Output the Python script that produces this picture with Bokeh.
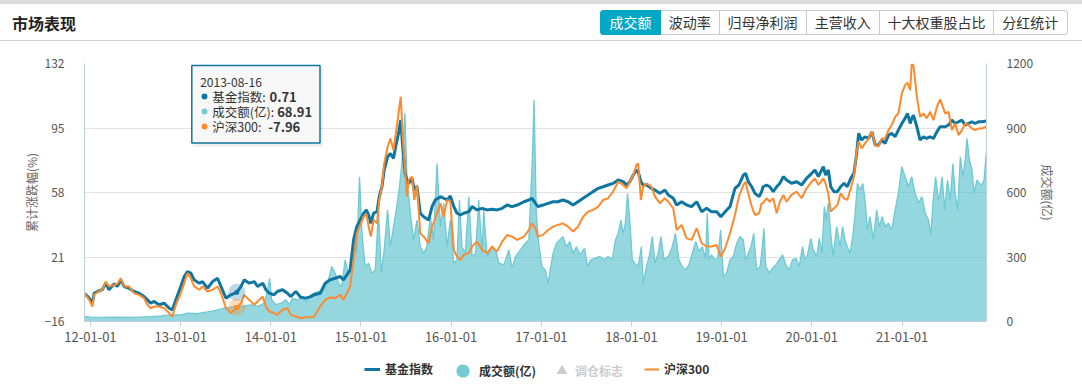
import pandas as pd
from bokeh.plotting import figure
from bokeh.layouts import column
from bokeh.models import (Range1d, LinearAxis, FixedTicker, DatetimeTickFormatter,
                          Legend, LegendItem, Div)
from bokeh.core.properties import value
from bokeh.embed import file_html
from bokeh.resources import INLINE

# ------------------------------------------------------------------ data
title_text = "市场表现"
tab_labels = ["成交额", "波动率", "归母净利润", "主营收入", "十大权重股占比", "分红统计"]
active_tab = "成交额"
fund_name = "基金指数"
vol_name = "成交额(亿)"
flag_name = "调仓标志"
hs_name = "沪深300"
left_axis_title = "累计涨跌幅(%)"
right_axis_title = "成交额(亿)"
left_ticks = [-16, 21, 58, 95, 132]
right_ticks = [0, 300, 600, 900, 1200]
year_ticks = ["2012-01-01", "2013-01-01", "2014-01-01", "2015-01-01", "2016-01-01",
              "2017-01-01", "2018-01-01", "2019-01-01", "2020-01-01", "2021-01-01"]
x_start, x_end = "2011-12-08", "2021-12-09"
tooltip_date = "2013-08-16"

line_dates = [
    "2011-12-09", "2011-12-27", "2012-01-09", "2012-01-16", "2012-01-29", "2012-02-18", "2012-03-03", "2012-03-16",
    "2012-04-06", "2012-04-19", "2012-05-03", "2012-05-16", "2012-06-05", "2012-06-26", "2012-07-16", "2012-08-05",
    "2012-08-19", "2012-09-01", "2012-09-15", "2012-10-05", "2012-10-26", "2012-11-15", "2012-11-28", "2012-12-12",
    "2013-01-01", "2013-01-15", "2013-01-28", "2013-02-11", "2013-02-24", "2013-03-17", "2013-03-30", "2013-04-19",
    "2013-05-10", "2013-05-30", "2013-06-13", "2013-07-03", "2013-07-23", "2013-08-16", "2013-09-02", "2013-09-15",
    "2013-10-05", "2013-10-26", "2013-11-08", "2013-11-29", "2013-12-12", "2013-12-26",
    "2014-01-14", "2014-01-27", "2014-02-17", "2014-03-09", "2014-03-23", "2014-04-12", "2014-05-02", "2014-05-22",
    "2014-06-12", "2014-06-25", "2014-07-20", "2014-08-09", "2014-08-29", "2014-09-18", "2014-10-09", "2014-10-22",
    "2014-11-05", "2014-11-18", "2014-12-02", "2014-12-15", "2014-12-29",
    "2015-01-12", "2015-01-23", "2015-02-01", "2015-02-10", "2015-02-21", "2015-03-07", "2015-03-16", "2015-03-27",
    "2015-04-05", "2015-04-19", "2015-04-30", "2015-05-13", "2015-05-24", "2015-06-02", "2015-06-11", "2015-06-20",
    "2015-06-29", "2015-07-06", "2015-07-13", "2015-07-27", "2015-08-05", "2015-08-16", "2015-08-29", "2015-09-12",
    "2015-10-02", "2015-10-16", "2015-10-29", "2015-11-19", "2015-12-02", "2015-12-16", "2015-12-29",
    "2016-01-12", "2016-01-25", "2016-02-08", "2016-02-21", "2016-03-13", "2016-03-26", "2016-04-15", "2016-05-06",
    "2016-05-26", "2016-06-15", "2016-07-05", "2016-07-26", "2016-08-15", "2016-09-04", "2016-09-25", "2016-10-22",
    "2016-11-11", "2016-11-24", "2016-12-08", "2016-12-18",
    "2017-01-07", "2017-01-28", "2017-02-17", "2017-03-09", "2017-03-29", "2017-04-19", "2017-05-09", "2017-05-29",
    "2017-06-19", "2017-07-09", "2017-07-29", "2017-08-19", "2017-09-08", "2017-09-28", "2017-10-18", "2017-11-08",
    "2017-11-28", "2017-12-12", "2017-12-25",
    "2018-01-08", "2018-01-21", "2018-01-28", "2018-02-08", "2018-02-17", "2018-03-03", "2018-03-23", "2018-04-06",
    "2018-04-26", "2018-05-16", "2018-05-30", "2018-06-19", "2018-07-03", "2018-07-23", "2018-08-12", "2018-09-01",
    "2018-09-22", "2018-10-12", "2018-11-01", "2018-11-21", "2018-12-12", "2018-12-29",
    "2019-01-15", "2019-02-04", "2019-02-24", "2019-03-12", "2019-03-30", "2019-04-08", "2019-04-19", "2019-05-03",
    "2019-05-16", "2019-06-02", "2019-06-12", "2019-06-18", "2019-07-02", "2019-07-15", "2019-07-29", "2019-08-12",
    "2019-08-25", "2019-09-08", "2019-09-21", "2019-10-11", "2019-11-01", "2019-11-21", "2019-12-11",
    "2020-01-01", "2020-01-14", "2020-01-28", "2020-02-17", "2020-02-26", "2020-03-08", "2020-03-18", "2020-03-31",
    "2020-04-14", "2020-04-27", "2020-05-11", "2020-05-24", "2020-06-07", "2020-06-20", "2020-07-01", "2020-07-09",
    "2020-07-21", "2020-08-04", "2020-08-18", "2020-09-01", "2020-09-14", "2020-09-27", "2020-10-11", "2020-10-24",
    "2020-11-07", "2020-11-20", "2020-12-04", "2020-12-17", "2020-12-31",
    "2021-01-13", "2021-01-23", "2021-02-03", "2021-02-09", "2021-02-16", "2021-03-02", "2021-03-15", "2021-03-29",
    "2021-04-11", "2021-04-25", "2021-05-08", "2021-05-22", "2021-06-04", "2021-06-25", "2021-07-08", "2021-07-22",
    "2021-08-04", "2021-08-18", "2021-08-31", "2021-09-14", "2021-09-27", "2021-10-11", "2021-10-24", "2021-11-07",
    "2021-11-20", "2021-12-08",
]

fund_index = [
    0.0, -2.6, -5.5, 0.2, 1.2, 2.2, 6.0, 2.2, 5.6, 4.1, 7.9, 4.1, 3.1, 1.2, 0.2, -1.7,
    -3.6, -5.5, -4.5, -6.4, -5.5, -8.4, -9.3, -3.6,
    4.1, 9.8, 12.6, 11.7, 7.9, 6.0, 6.9, 3.1, 6.9, 8.8, 4.1, -2.6, -0.7, 0.71, 4.1, 7.9,
    6.0, 6.9, 4.1, 6.0, 2.2, 0.2,
    -0.7, 1.2, 2.2, 0.2, -1.7, 1.2, -2.1, -2.6, -1.7, -0.7, 0.2, 6.0, 7.9, 8.8, 9.8, 7.9,
    10.7, 13.6, 30.8, 38.4, 42.2,
    46.1, 48.0, 45.1, 40.3, 46.1, 47.0, 55.6, 61.3, 70.9, 78.5, 80.4, 77.6, 86.2, 91.9, 99.5, 82.3,
    69.0, 65.2, 63.3, 66.1, 59.4, 61.3, 46.1, 44.1, 42.2, 49.9, 53.7, 55.6, 54.7, 53.7, 56.0,
    49.9, 46.1, 45.1, 46.1, 47.0, 49.9, 48.0, 48.9, 48.0, 48.4, 48.0, 48.9, 50.8, 49.9, 50.8, 52.7,
    53.7, 54.7, 51.8, 49.9,
    50.8, 51.8, 52.7, 52.7, 53.7, 52.7, 50.8, 52.7, 54.7, 56.6, 58.5, 60.4, 61.3, 62.3, 63.2, 65.2,
    64.2, 62.3, 64.2,
    68.0, 70.9, 69.9, 64.2, 62.3, 62.3, 60.4, 59.4, 57.5, 59.4, 56.6, 54.7, 50.8, 52.7, 50.8, 49.9,
    52.7, 47.0, 48.9, 47.0, 47.0, 44.1,
    47.0, 49.9, 60.4, 62.3, 68.0, 69.0, 64.2, 61.3, 57.5, 55.6, 58.5, 61.3, 62.3, 61.3, 58.5, 61.3,
    63.3, 67.1, 65.2, 63.3, 64.2, 62.3, 66.1,
    69.0, 70.9, 67.1, 72.8, 68.0, 70.9, 61.3, 58.5, 58.5, 61.3, 63.3, 61.3, 66.1, 69.0, 80.4, 91.9,
    88.1, 90.0, 89.0, 92.8, 85.2, 85.2, 88.1, 86.2, 90.9, 91.9, 90.0, 93.8, 97.6,
    100.5, 103.3, 97.6, 100.5, 102.4, 95.7, 88.1, 90.0, 89.0, 90.0, 89.0, 92.8, 95.7, 95.7, 96.7, 99.5,
    97.6, 98.6, 99.5, 96.7, 97.6, 98.6, 97.6, 98.6, 98.6, 99.0,
]

hs300 = [
    0.0, -3.6, -7.4, -0.7, 0.8, 2.2, 6.9, 4.1, 5.0, 5.6, 8.8, 4.1, 4.1, 0.2, -0.7, -2.6,
    -6.4, -8.4, -7.4, -7.4, -8.4, -11.2, -13.1, -6.4,
    0.2, 6.0, 11.7, 8.8, 4.1, 2.2, 4.1, 1.2, 2.2, 4.1, 0.2, -8.4, -11.2, -7.96, -5.5, -0.7,
    -3.6, -6.4, -4.5, -1.7, -7.4, -10.3,
    -11.2, -12.2, -9.3, -8.4, -12.2, -13.1, -14.1, -13.5, -13.5, -13.1, -7.4, -3.6, -2.1, -2.6, -0.7, -3.6,
    0.2, 4.1, 19.3, 34.6, 39.4,
    44.1, 45.7, 38.4, 32.7, 42.2, 40.3, 53.7, 61.3, 74.7, 84.2, 89.0, 82.3, 93.8, 103.3, 112.9, 88.1,
    70.9, 55.6, 65.2, 67.1, 53.7, 62.3, 34.6, 32.7, 28.9, 38.4, 43.2, 51.8, 44.1, 53.7, 52.7,
    25.1, 21.2, 19.3, 22.2, 23.2, 27.0, 29.8, 25.1, 23.2, 27.0, 24.1, 29.8, 33.6, 32.7, 30.8, 32.7,
    36.5, 40.3, 37.5, 32.7,
    33.7, 36.5, 38.4, 39.4, 40.3, 38.4, 35.6, 38.4, 44.1, 47.0, 48.0, 49.9, 53.7, 54.7, 58.5, 64.2,
    62.3, 60.4, 64.2,
    68.0, 73.7, 74.7, 53.7, 61.3, 63.2, 61.3, 55.6, 51.8, 54.7, 52.7, 48.9, 36.5, 39.4, 31.7, 30.8,
    37.5, 28.9, 27.0, 27.0, 27.9, 21.2,
    26.0, 34.6, 45.1, 55.6, 62.3, 64.2, 57.5, 49.9, 45.1, 46.1, 51.8, 51.8, 54.7, 52.7, 54.7, 46.1,
    52.7, 56.6, 52.7, 56.6, 58.5, 54.7, 60.4,
    64.2, 66.1, 62.3, 66.1, 63.3, 57.5, 47.0, 48.9, 50.8, 57.5, 54.7, 53.7, 60.4, 67.1, 81.4, 87.1,
    83.3, 86.2, 89.0, 92.8, 85.2, 84.3, 89.0, 89.0, 93.8, 96.6, 101.4, 103.3, 114.8,
    119.6, 120.9, 116.7, 131.6, 131.0, 112.9, 101.4, 103.3, 100.5, 104.3, 99.5, 107.2, 111.4, 103.3, 104.3, 93.8,
    97.6, 90.9, 93.8, 97.6, 96.7, 94.7, 93.8, 94.7, 94.7, 95.7,
]

vol_dates = [
    "2011-12-09", "2012-01-02", "2012-02-11", "2012-04-19", "2012-06-26", "2012-09-01", "2012-10-12", "2012-11-21",
    "2013-01-01", "2013-01-28", "2013-03-10", "2013-04-06", "2013-05-03", "2013-05-30", "2013-06-26", "2013-07-23",
    "2013-08-16", "2013-09-15", "2013-10-12", "2013-11-08", "2013-12-05", "2013-12-19", "2013-12-27",
    "2014-01-04", "2014-01-22", "2014-02-11", "2014-03-03", "2014-03-17", "2014-03-30", "2014-04-20", "2014-05-10",
    "2014-05-22", "2014-06-12", "2014-06-25", "2014-08-02", "2014-08-22", "2014-09-05", "2014-09-18", "2014-10-02",
    "2014-10-15", "2014-10-29", "2014-11-11", "2014-11-25", "2014-12-06", "2014-12-15", "2014-12-26",
    "2015-01-05", "2015-01-18", "2015-02-01", "2015-02-14", "2015-02-28", "2015-03-13", "2015-03-24", "2015-04-05",
    "2015-04-19", "2015-04-30", "2015-05-13", "2015-05-24", "2015-06-06", "2015-06-17", "2015-06-28", "2015-07-06",
    "2015-07-20", "2015-08-02", "2015-08-16", "2015-08-29", "2015-09-12", "2015-09-25", "2015-10-09", "2015-10-22",
    "2015-11-05", "2015-11-19", "2015-12-02", "2015-12-16", "2015-12-29",
    "2016-01-12", "2016-01-25", "2016-02-04", "2016-02-14", "2016-02-28", "2016-03-13", "2016-03-26", "2016-04-09",
    "2016-04-22", "2016-05-06", "2016-05-12", "2016-05-26", "2016-06-15", "2016-06-29", "2016-07-13", "2016-08-02",
    "2016-08-22", "2016-09-04", "2016-09-18", "2016-10-08", "2016-10-28", "2016-11-11", "2016-11-25", "2016-12-02",
    "2016-12-07", "2016-12-11", "2016-12-21",
    "2017-01-03", "2017-01-17", "2017-01-28", "2017-02-08", "2017-02-17", "2017-03-03", "2017-03-16", "2017-03-29",
    "2017-04-12", "2017-04-26", "2017-05-09", "2017-05-23", "2017-06-05", "2017-06-25", "2017-07-06", "2017-07-20",
    "2017-08-05", "2017-08-25", "2017-09-15", "2017-09-28", "2017-10-14", "2017-10-28", "2017-11-08", "2017-11-19",
    "2017-11-28", "2017-12-07", "2017-12-16", "2017-12-25",
    "2018-01-04", "2018-01-14", "2018-01-28", "2018-02-10", "2018-02-17", "2018-03-03", "2018-03-16", "2018-03-26",
    "2018-04-06", "2018-04-19", "2018-04-30", "2018-05-13", "2018-05-30", "2018-06-15", "2018-06-28", "2018-07-12",
    "2018-07-25", "2018-08-08", "2018-08-21", "2018-09-04", "2018-09-18", "2018-10-01", "2018-10-15", "2018-10-28",
    "2018-11-04", "2018-11-11", "2018-11-21", "2018-12-05", "2018-12-16", "2018-12-28",
    "2019-01-08", "2019-01-21", "2019-02-04", "2019-02-17", "2019-03-03", "2019-03-16", "2019-03-30", "2019-04-08",
    "2019-04-19", "2019-04-30", "2019-05-11", "2019-05-23", "2019-06-06", "2019-06-15", "2019-06-21", "2019-06-29",
    "2019-07-13", "2019-07-26", "2019-08-09", "2019-08-22", "2019-09-05", "2019-09-18", "2019-10-02", "2019-10-15",
    "2019-10-29", "2019-11-11", "2019-11-25", "2019-12-04", "2019-12-15", "2019-12-28",
    "2020-01-07", "2020-01-21", "2020-02-01", "2020-02-11", "2020-02-21", "2020-02-28", "2020-03-08", "2020-03-18",
    "2020-03-28", "2020-04-11", "2020-04-25", "2020-05-05", "2020-05-15", "2020-05-24", "2020-06-04", "2020-06-15",
    "2020-06-24", "2020-07-04", "2020-07-15", "2020-07-26", "2020-08-04", "2020-08-13", "2020-08-24", "2020-09-07",
    "2020-09-20", "2020-10-01", "2020-10-12", "2020-10-24", "2020-11-07", "2020-11-20", "2020-12-04", "2020-12-17",
    "2020-12-31",
    "2021-01-13", "2021-01-27", "2021-02-09", "2021-02-23", "2021-03-09", "2021-03-22", "2021-04-05", "2021-04-18",
    "2021-04-28", "2021-05-06", "2021-05-17", "2021-05-28", "2021-06-04", "2021-06-12", "2021-06-23", "2021-07-04",
    "2021-07-15", "2021-07-26", "2021-08-04", "2021-08-14", "2021-08-25", "2021-09-04", "2021-09-14", "2021-09-21",
    "2021-10-01", "2021-10-11", "2021-10-20", "2021-10-31", "2021-11-11", "2021-11-20", "2021-11-29", "2021-12-08",
]

volume = [
    23, 20, 19, 20, 19, 23, 26, 31,
    31, 39, 36, 42, 47, 54, 62, 67,
    68.91, 73, 77, 70, 85, 147, 201,
    101, 78, 85, 101, 78, 108, 101, 116,
    93, 124, 132, 147, 194, 256, 225, 178,
    163, 287, 225, 271, 410, 317, 673,
    410, 256, 271, 225, 240, 519, 225, 333,
    519, 348, 441, 519, 627, 751, 968, 673,
    503, 379, 472, 348, 317, 348, 488, 379,
    735, 441, 550, 348, 472,
    271, 287, 565, 348, 317, 581, 302, 317,
    565, 317, 519, 302, 348, 333, 271, 263,
    333, 248, 302, 333, 364, 379, 751, 1030,
    750, 503, 364,
    256, 240, 178, 256, 317, 364, 379, 395,
    348, 372, 317, 348, 310, 341, 256, 287,
    294, 302, 287, 302, 287, 379, 410, 472,
    410, 457, 596, 472,
    287, 271, 256, 348, 178, 256, 317, 395,
    271, 317, 395, 287, 302, 348, 410, 287,
    256, 240, 263, 317, 372, 325, 348, 294,
    503, 287, 310, 287, 294, 426,
    209, 225, 287, 302, 364, 395, 379, 287,
    317, 348, 410, 240, 256, 348, 434, 256,
    225, 248, 263, 287, 310, 263, 240, 287,
    294, 256, 348, 287, 310, 387,
    333, 302, 387, 317, 534, 472, 550, 410,
    302, 441, 348, 441, 379, 348, 317, 395,
    488, 642, 612, 642, 565, 426, 488, 379,
    519, 441, 488, 441, 457, 426, 519, 596,
    720,
    673, 627, 673, 596, 550, 581, 503, 472,
    403, 550, 673, 565, 596, 673, 519, 658,
    565, 735, 596, 519, 766, 673, 751, 851,
    751, 705, 596, 658, 642, 635, 658, 782,
]

# ------------------------------------------------------------------ layout / style
FONT = "Noto Sans CJK SC"
W = 1082
HEAD_H = 42
MAIN_H = 310
LEG_H = 38
ML, MR, MT, MB = 84, 96, 21, 31
FW = W - ML - MR
FH = MAIN_H - MT - MB
BLUE = "#0e76a0"
ORANGE = "#fd8a2c"
TEAL = "#5bc2ce"
TEAL_LINE = "#6fc9d4"
TEAL_DOT = "#74cbd6"
ACTIVE = "#03a8c7"
AXIS_C = "#bfcfdf"
GRID_C = "#e3e3e3"

n_line = min(len(line_dates), len(fund_index), len(hs300))
n_vol = min(len(vol_dates), len(volume))
ld = pd.to_datetime(line_dates[:n_line])
vd = pd.to_datetime(vol_dates[:n_vol])
fund_v = fund_index[:n_line]
hs_v = hs300[:n_line]
vol_v = volume[:n_vol]

# ------------------------------------------------------------------ header (HTML)
edges = [600, 660, 718.5, 805.5, 879, 993, 1066.5]
btn_html = []
for i, t in enumerate(tab_labels):
    left = edges[i]
    width = edges[i + 1] - edges[i] + 1
    act = (t == active_tab)
    bg = ACTIVE if act else "#ffffff"
    fg = "#ffffff" if act else "#333333"
    bc = ACTIVE if act else "#cccccc"
    radius = "3px 0 0 3px" if i == 0 else ("0 3px 3px 0" if i == len(tab_labels) - 1 else "0")
    btn_html.append(
        f'<div style="position:absolute;left:{left}px;top:10px;width:{width}px;height:25px;'
        f'box-sizing:border-box;border:1px solid {bc};border-radius:{radius};background:{bg};'
        f'color:{fg};font-size:14px;line-height:23px;text-align:center;white-space:nowrap;'
        f'z-index:{2 if act else 1};">{t}</div>')
header_html = (
    f'<div style="position:relative;width:{W}px;height:{HEAD_H}px;font-family:\'{FONT}\',sans-serif;'
    f'background:#ffffff;overflow:hidden;">'
    f'<div style="position:absolute;left:0;top:0;width:{W}px;height:4px;background:#dcdcdc;"></div>'
    f'<div style="position:absolute;left:12px;top:12px;font-size:16px;font-weight:bold;color:#222222;'
    f'line-height:22px;white-space:nowrap;">{title_text}</div>'
    f'<div style="position:absolute;left:0;top:40px;width:{W}px;height:1px;background:#d0d0d0;"></div>'
    + "".join(btn_html) + '</div>'
)
head = Div(text=header_html, width=W, height=HEAD_H, margin=(0, 0, 0, 0))

# ------------------------------------------------------------------ main chart
p = figure(width=W, height=MAIN_H, x_axis_type="datetime",
           x_range=Range1d(pd.Timestamp(x_start), pd.Timestamp(x_end)),
           y_range=Range1d(left_ticks[0], left_ticks[-1]),
           toolbar_location=None, output_backend="svg",
           min_border_left=ML, min_border_right=MR, min_border_top=MT, min_border_bottom=MB)
p.outline_line_color = None
p.background_fill_color = "white"
p.border_fill_color = "white"
p.extra_y_ranges = {"vol": Range1d(right_ticks[0], right_ticks[-1]), "py": Range1d(FH, 0)}
p.extra_x_ranges = {"px": Range1d(0, FW)}

p.xgrid.visible = False
p.ygrid.ticker = FixedTicker(ticks=left_ticks)
p.ygrid.grid_line_color = GRID_C


def style_y(ax):
    ax.axis_line_color = AXIS_C
    ax.major_tick_line_color = None
    ax.minor_tick_line_color = None
    ax.major_label_text_color = "#555555"
    ax.major_label_text_font = FONT
    ax.major_label_text_font_size = "12px"
    ax.major_label_standoff = 14
    ax.axis_label_text_font = FONT
    ax.axis_label_text_font_size = "12px"
    ax.axis_label_text_font_style = "normal"
    ax.axis_label_text_color = "#666666"
    ax.axis_label_standoff = 2


yl = p.yaxis[0]
yl.ticker = FixedTicker(ticks=left_ticks)
yl.axis_label = left_axis_title
style_y(yl)

yr = LinearAxis(y_range_name="vol", ticker=FixedTicker(ticks=right_ticks), axis_label=right_axis_title)
style_y(yr)
yr.axis_label_standoff = 3
p.add_layout(yr, "right")

xa = p.xaxis[0]
xa.ticker = FixedTicker(ticks=[pd.Timestamp(d).value // 10**6 for d in year_ticks])
fmt = "%y-%m-%d"
xa.formatter = DatetimeTickFormatter(years=fmt, months=fmt, days=fmt, hours=fmt, hourmin=fmt,
                                     minutes=fmt, minsec=fmt, seconds=fmt, milliseconds=fmt,
                                     microseconds=fmt, strip_leading_zeros=False)
xa.axis_line_color = AXIS_C
xa.major_tick_line_color = AXIS_C
xa.major_tick_out = 5
xa.major_tick_in = 0
xa.minor_tick_line_color = None
xa.major_label_text_color = "#555555"
xa.major_label_text_font = FONT
xa.major_label_text_font_size = "13px"
xa.major_label_standoff = 5

# series
p.varea(x=vd, y1=0, y2=vol_v, y_range_name="vol", fill_color=TEAL, fill_alpha=0.65)
p.line(vd, vol_v, y_range_name="vol", line_color=TEAL_LINE, line_width=1.3)
fund_r = p.line(ld, fund_v, line_color=BLUE, line_width=3)
hs_r = p.line(ld, hs_v, line_color=ORANGE, line_width=2)

# hovered point emphasis
ti = line_dates.index(tooltip_date)
vi = vol_dates.index(tooltip_date)
td = pd.Timestamp(tooltip_date)
p.scatter([td], [fund_index[ti]], size=17, fill_color=BLUE, fill_alpha=0.28, line_color=None)
p.scatter([td], [fund_index[ti]], size=5, fill_color=BLUE, line_color=None)
p.scatter([td], [hs300[ti]], size=17, fill_color=ORANGE, fill_alpha=0.3, line_color=None)
p.scatter([td], [hs300[ti]], marker="square", size=5, fill_color=ORANGE, line_color=None)

# tooltip (frame pixel coordinates)
TX0, TX1, TY0, TY1 = 107.3, 235.5, 2, 79.5
p.quad(left=TX0 + 1, right=TX1 + 3, top=TY0 + 2, bottom=TY1 + 4, fill_color="black",
       fill_alpha=0.06, line_color=None, x_range_name="px", y_range_name="py")
p.quad(left=TX0, right=TX1, top=TY0, bottom=TY1, fill_color="#f8f8f8", line_color=BLUE,
       line_width=1.5, x_range_name="px", y_range_name="py")
p.text(x=[TX0 + 8.4], y=[18.5], text=[tooltip_date], x_range_name="px", y_range_name="py",
       text_font=value(FONT), text_font_size="12px", text_color="#333333", text_baseline="middle")
rows_y = [33, 48, 63]
p.scatter(x=[120, 120, 120], y=rows_y, size=6, fill_color=[BLUE, TEAL_DOT, ORANGE],
          line_color=None, x_range_name="px", y_range_name="py")
p.text(x=[127.7] * 3, y=rows_y, text=[f"{fund_name}:", f"{vol_name}:", f"{hs_name}:"],
       x_range_name="px", y_range_name="py", text_font=value(FONT), text_font_size="12.5px",
       text_color="#333333", text_baseline="middle")
p.text(x=[185, 192.7, 183.7], y=rows_y,
       text=[f"{fund_index[ti]:.2f}", f"{volume[vi]:.2f}", f"{hs300[ti]:.2f}"],
       x_range_name="px", y_range_name="py", text_font=value(FONT), text_font_size="13px",
       text_font_style="bold", text_color="#333333", text_baseline="middle")

# ------------------------------------------------------------------ legend strip
leg = figure(width=W, height=LEG_H, x_range=Range1d(0, 1), y_range=Range1d(0, 1),
             toolbar_location=None, output_backend="svg",
             x_axis_location=None, y_axis_location=None,
             min_border_left=ML, min_border_right=MR, min_border_top=0, min_border_bottom=0)
leg.outline_line_color = None
leg.grid.visible = False
leg.background_fill_color = "white"
leg.border_fill_color = "white"
# legend-sample renderers: placed outside the visible range so only their legend glyphs show
hide_x, hide_y = [-10, -9], [-10, -10]
lg_fund = leg.line(x=hide_x, y=hide_y, line_color=BLUE, line_width=3)
lg_vol = leg.scatter(x=hide_x[:1], y=hide_y[:1], marker="circle", size=13,
                     fill_color=TEAL_DOT, line_color=None)
lg_flag = leg.scatter(x=hide_x[:1], y=hide_y[:1], marker="triangle", size=11,
                      fill_color="#cccccc", line_color=None)
lg_hs = leg.line(x=hide_x, y=hide_y, line_color=ORANGE, line_width=2)


def add_legend(r, label, vx, vy, gw, gh, standoff, color="#333333"):
    lg = Legend(items=[LegendItem(label=value(label), renderers=[r])], location=(vx, vy),
                glyph_width=gw, glyph_height=gh, label_height=14, label_width=10,
                label_standoff=standoff, padding=0, margin=0, spacing=0,
                border_line_color=None, background_fill_alpha=0,
                label_text_font=FONT, label_text_font_size="12px",
                label_text_font_style="bold", label_text_color=color)
    leg.add_layout(lg)


add_legend(lg_fund, fund_name, 280, 13, 16, 14, 5)
add_legend(lg_vol, vol_name, 362, 3.5, 33, 33, -4)
add_legend(lg_flag, flag_name, 464, 6.5, 27, 27, -1, color="#cccccc")
add_legend(lg_hs, hs_name, 560, 13, 15, 14, 5)

layout = column(head, p, leg, spacing=0)
open("out.html", "w").write(file_html(layout, INLINE))
